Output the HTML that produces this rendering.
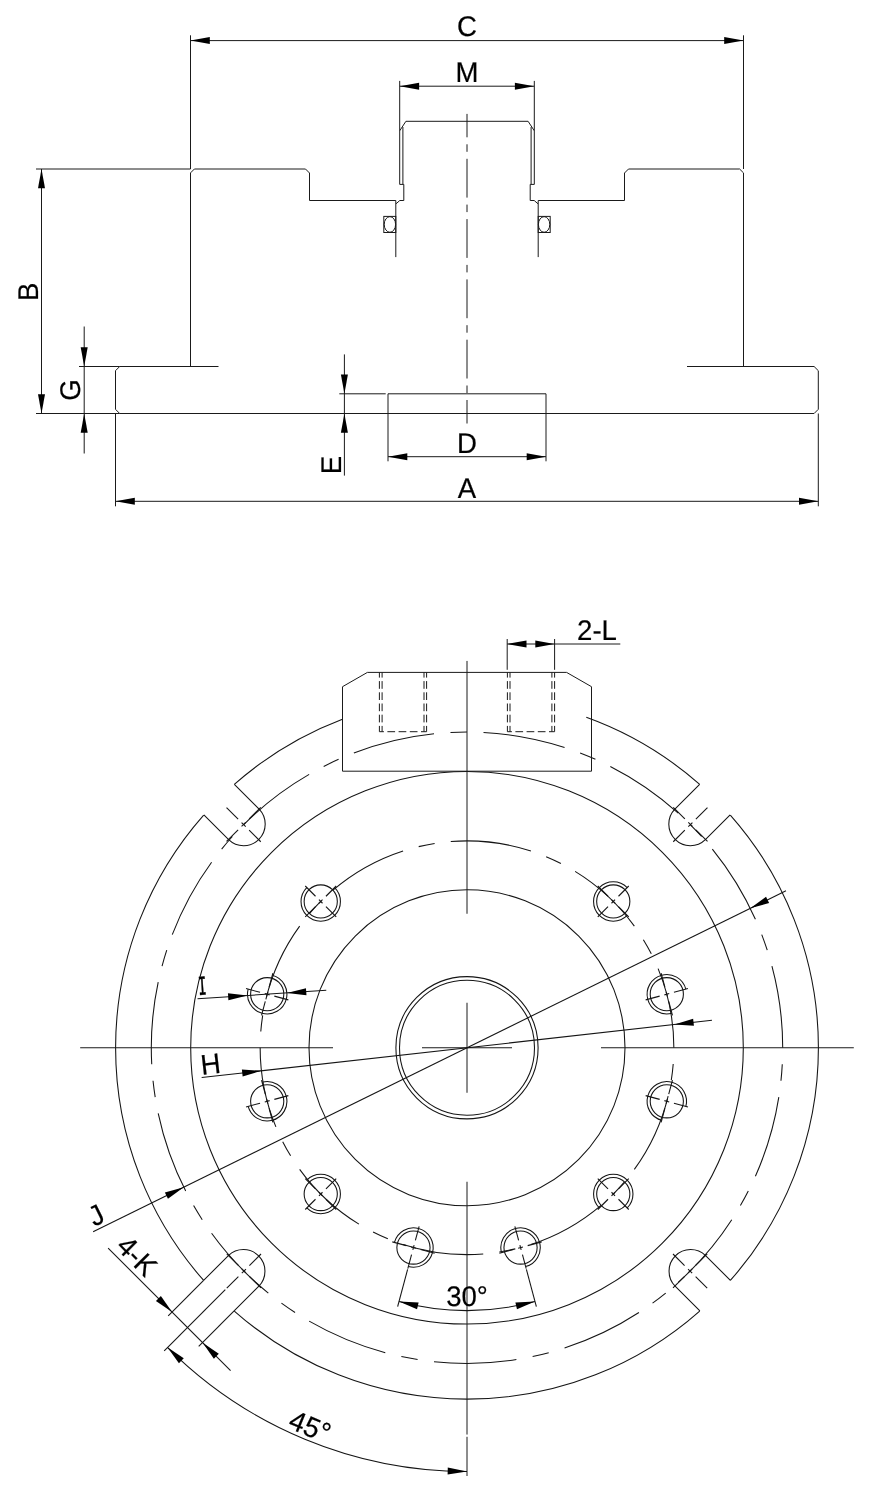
<!DOCTYPE html>
<html lang="en">
<head>
<meta charset="utf-8">
<title>Dimension drawing</title>
<style>
html,body{margin:0;padding:0;background:#fff;}
body{width:870px;height:1500px;overflow:hidden;}
svg{display:block;will-change:transform;text-rendering:geometricPrecision;}
svg line,svg polyline,svg path,svg circle,svg rect,svg ellipse,svg polygon{fill:none;stroke:#1a1a1a;stroke-width:1;}
svg path,svg circle,svg line.o{stroke:#151515;stroke-width:1.07;}
svg polygon.ah{fill:#000;stroke:none;}
svg text{font-family:"Liberation Sans",sans-serif;font-size:27.6px;fill:#000;stroke:#000;stroke-width:0.2px;}
svg text.ti{font-family:"DejaVu Sans Mono","Liberation Mono",monospace;font-size:24.6px;stroke:#000;stroke-width:0.6px;}
</style>
</head>
<body>
<svg width="870" height="1500" viewBox="0 0 870 1500" role="img" aria-label="Dimension drawing: side elevation and plan view">
<g id="elevation">
<line x1="190.5" y1="35.3" x2="190.5" y2="169"/>
<polyline points="190.5,366.5 190.5,172.9 194.4,169"/>
<line x1="743.5" y1="35.3" x2="743.5" y2="169"/>
<polyline points="743.5,366.5 743.5,172.9 739.6,169"/>
<polyline points="194.4,169 305.5,169 309.5,173 309.5,200.5 395.8,200.5 395.8,257.1"/>
<polyline points="739.6,169 628.5,169 624.5,173 624.5,200.5 538.2,200.5 538.2,257.1"/>
<polyline points="395.9,203.9 399.8,200.5 403.8,200.5 403.8,184.4 399.7,184.4 399.7,130.8 405.9,121.3 528.1,121.3 534.3,130.8 534.3,184.4 530.2,184.4 530.2,200.5 534.2,200.5 538.1,203.9"/>
<line x1="402.9" y1="127" x2="402.9" y2="184.4"/>
<rect x="383.8" y="216.4" width="12" height="16.1"/>
<ellipse cx="389.9" cy="224.45" rx="5.7" ry="7.8" stroke-width="1.2"/>
<line x1="399.7" y1="80.9" x2="399.7" y2="130.8"/>
<line x1="531.1" y1="127" x2="531.1" y2="184.4"/>
<rect x="538.2" y="216.4" width="12" height="16.1"/>
<ellipse cx="544.1" cy="224.45" rx="5.7" ry="7.8" stroke-width="1.2"/>
<line x1="534.3" y1="80.9" x2="534.3" y2="130.8"/>
<polyline points="218.5,366.5 119.7,366.5 115.5,370.7 115.5,409.3 119.7,413.5 814.1,413.5 818.3,409.3 818.3,370.7 814.1,366.5 687,366.5"/>
<polyline points="388,461.3 388,393.8 546,393.8 546,461.3"/>
<line x1="467" y1="113.9" x2="467" y2="137.3"/>
<line x1="467" y1="144.3" x2="467" y2="151.8"/>
<line x1="467" y1="158.8" x2="467" y2="197.6"/>
<line x1="467" y1="204.6" x2="467" y2="212.1"/>
<line x1="467" y1="219.1" x2="467" y2="257.9"/>
<line x1="467" y1="264.9" x2="467" y2="272.4"/>
<line x1="467" y1="279.4" x2="467" y2="318.2"/>
<line x1="467" y1="325.2" x2="467" y2="332.7"/>
<line x1="467" y1="339.7" x2="467" y2="378.5"/>
<line x1="467" y1="385.5" x2="467" y2="393"/>
<line x1="467" y1="400" x2="467" y2="423.5"/>
<line x1="190.5" y1="40.6" x2="743.5" y2="40.6"/>
<polygon class="ah" points="190.5,40.6 209.8,37.1 209.8,44.1"/>
<polygon class="ah" points="743.5,40.6 724.2,44.1 724.2,37.1"/>
<text class="t" text-anchor="middle" transform="translate(467 36.3) scale(1 1.030)">C</text>
<line x1="399.8" y1="86.2" x2="534.2" y2="86.2"/>
<polygon class="ah" points="399.8,86.2 419.1,82.7 419.1,89.7"/>
<polygon class="ah" points="534.2,86.2 514.9,89.7 514.9,82.7"/>
<text class="t" text-anchor="middle" transform="translate(467 82.4) scale(1 1.030)">M</text>
<line x1="36" y1="169" x2="190.5" y2="169"/>
<line x1="36" y1="413.5" x2="119.7" y2="413.5"/>
<line x1="41.5" y1="169" x2="41.5" y2="413.5"/>
<polygon class="ah" points="41.5,169 45,188.3 38,188.3"/>
<polygon class="ah" points="41.5,413.5 38,394.2 45,394.2"/>
<text class="t" text-anchor="middle" transform="translate(38 291.8) rotate(-90) scale(1 1.030)">B</text>
<line x1="79" y1="366.5" x2="119.7" y2="366.5"/>
<line x1="84.2" y1="326.5" x2="84.2" y2="453.5"/>
<polygon class="ah" points="84.2,366.5 80.7,347.2 87.7,347.2"/>
<polygon class="ah" points="84.2,413.5 87.7,432.8 80.7,432.8"/>
<text class="t" text-anchor="middle" transform="translate(80.4 390) rotate(-90) scale(1 1.030)">G</text>
<line x1="339.3" y1="393.8" x2="385.7" y2="393.8"/>
<line x1="344.4" y1="354.4" x2="344.4" y2="475.6"/>
<polygon class="ah" points="344.4,393.8 340.9,374.5 347.9,374.5"/>
<polygon class="ah" points="344.4,413.5 347.9,432.8 340.9,432.8"/>
<text class="t" text-anchor="middle" transform="translate(340.7 465.1) rotate(-90) scale(1 1.030)">E</text>
<line x1="388" y1="456.7" x2="546" y2="456.7"/>
<polygon class="ah" points="388,456.7 407.3,453.2 407.3,460.2"/>
<polygon class="ah" points="546,456.7 526.7,460.2 526.7,453.2"/>
<text class="t" text-anchor="middle" transform="translate(467 452.5) scale(1 1.030)">D</text>
<line x1="115.5" y1="413.5" x2="115.5" y2="506.3"/>
<line x1="818.3" y1="413.5" x2="818.3" y2="506.3"/>
<line x1="115.5" y1="501.3" x2="818.3" y2="501.3"/>
<polygon class="ah" points="115.5,501.3 134.8,497.8 134.8,504.8"/>
<polygon class="ah" points="818.3,501.3 799,504.8 799,497.8"/>
<text class="t" text-anchor="middle" transform="translate(467 497.5) scale(1 1.030)">A</text>
</g>
<g id="plan">
<circle cx="467" cy="1047.75" r="71.1"/>
<circle cx="467" cy="1047.75" r="67.5"/>
<circle cx="467" cy="1047.75" r="158"/>
<circle cx="467" cy="1047.75" r="276.3"/>
<path d="M699.7 784.44 A351.4 351.4 0 0 0 586.3 717.22"/>
<path d="M342.4 719.18 A351.4 351.4 0 0 0 234.3 784.44"/>
<path d="M203.69 815.05 A351.4 351.4 0 0 0 203.69 1280.45"/>
<path d="M234.3 1311.06 A351.4 351.4 0 0 0 699.7 1311.06"/>
<path d="M730.31 1280.45 A351.4 351.4 0 0 0 730.31 815.05"/>
<path d="M782.7 1047.75 A315.7 315.7 0 0 0 771.94 966.04"/>
<path d="M767.25 950.19 A315.7 315.7 0 0 0 761.73 934.61"/>
<path d="M755.41 919.34 A315.7 315.7 0 0 0 712.34 849.07"/>
<path d="M701.61 836.51 A315.7 315.7 0 0 0 690.23 824.52"/>
<path d="M678.24 813.14 A315.7 315.7 0 0 0 610.32 766.46"/>
<path d="M595.41 759.34 A315.7 315.7 0 0 0 580.14 753.02"/>
<path d="M564.56 747.5 A315.7 315.7 0 0 0 483.52 732.48"/>
<path d="M467 732.05 A315.7 315.7 0 0 0 450.48 732.48"/>
<path d="M434 733.78 A315.7 315.7 0 0 0 353.86 753.02"/>
<path d="M338.59 759.34 A315.7 315.7 0 0 0 323.68 766.46"/>
<path d="M309.15 774.35 A315.7 315.7 0 0 0 243.77 824.52"/>
<path d="M232.39 836.51 A315.7 315.7 0 0 0 221.66 849.07"/>
<path d="M211.59 862.19 A315.7 315.7 0 0 0 172.27 934.61"/>
<path d="M166.75 950.19 A315.7 315.7 0 0 0 162.06 966.04"/>
<path d="M158.2 982.11 A315.7 315.7 0 0 0 151.73 1064.27"/>
<path d="M153.03 1080.75 A315.7 315.7 0 0 0 155.19 1097.14"/>
<path d="M158.2 1113.39 A315.7 315.7 0 0 0 185.71 1191.07"/>
<path d="M193.6 1205.6 A315.7 315.7 0 0 0 202.23 1219.69"/>
<path d="M211.59 1233.31 A315.7 315.7 0 0 0 268.32 1293.09"/>
<path d="M281.44 1303.16 A315.7 315.7 0 0 0 295.06 1312.52"/>
<path d="M309.15 1321.15 A315.7 315.7 0 0 0 385.29 1352.69"/>
<path d="M401.36 1356.55 A315.7 315.7 0 0 0 417.61 1359.56"/>
<path d="M434 1361.72 A315.7 315.7 0 0 0 516.39 1359.56"/>
<path d="M532.64 1356.55 A315.7 315.7 0 0 0 548.71 1352.69"/>
<path d="M564.56 1348 A315.7 315.7 0 0 0 638.94 1312.52"/>
<path d="M652.56 1303.16 A315.7 315.7 0 0 0 665.68 1293.09"/>
<path d="M678.24 1282.36 A315.7 315.7 0 0 0 731.77 1219.69"/>
<path d="M740.4 1205.6 A315.7 315.7 0 0 0 748.29 1191.07"/>
<path d="M755.41 1176.16 A315.7 315.7 0 0 0 778.81 1097.14"/>
<path d="M780.97 1080.75 A315.7 315.7 0 0 0 782.27 1064.27"/>
<path d="M673.85 1047.75 A206.85 206.85 0 0 0 658.1 968.59"/>
<path d="M651.3 953.84 A206.85 206.85 0 0 0 643.37 939.67"/>
<path d="M634.35 926.17 A206.85 206.85 0 0 0 575.08 871.38"/>
<path d="M560.91 863.45 A206.85 206.85 0 0 0 546.16 856.65"/>
<path d="M530.92 851.02 A206.85 206.85 0 0 0 450.77 841.54"/>
<path d="M434.64 843.45 A206.85 206.85 0 0 0 418.71 846.62"/>
<path d="M403.08 851.02 A206.85 206.85 0 0 0 332.66 890.46"/>
<path d="M320.73 901.48 A206.85 206.85 0 0 0 309.71 913.41"/>
<path d="M299.65 926.17 A206.85 206.85 0 0 0 265.87 999.46"/>
<path d="M262.7 1015.39 A206.85 206.85 0 0 0 260.79 1031.52"/>
<path d="M260.15 1047.75 A206.85 206.85 0 0 0 275.9 1126.91"/>
<path d="M282.7 1141.66 A206.85 206.85 0 0 0 290.63 1155.83"/>
<path d="M299.65 1169.33 A206.85 206.85 0 0 0 358.92 1224.12"/>
<path d="M373.09 1232.05 A206.85 206.85 0 0 0 387.84 1238.85"/>
<path d="M403.08 1244.48 A206.85 206.85 0 0 0 483.23 1253.96"/>
<path d="M499.36 1252.05 A206.85 206.85 0 0 0 515.29 1248.88"/>
<path d="M530.92 1244.48 A206.85 206.85 0 0 0 601.34 1205.04"/>
<path d="M613.27 1194.02 A206.85 206.85 0 0 0 624.29 1182.09"/>
<path d="M634.35 1169.33 A206.85 206.85 0 0 0 668.13 1096.04"/>
<path d="M671.3 1080.11 A206.85 206.85 0 0 0 673.21 1063.98"/>
<line x1="333" y1="1047.75" x2="80.2" y2="1047.75"/>
<line x1="467" y1="913.75" x2="467" y2="660.95"/>
<line x1="601" y1="1047.75" x2="853.8" y2="1047.75"/>
<line x1="467" y1="1181.75" x2="467" y2="1434.55"/>
<line x1="422" y1="1047.75" x2="512" y2="1047.75"/>
<line x1="467" y1="1002.75" x2="467" y2="1092.75"/>
<line x1="467" y1="1436.8" x2="467" y2="1476"/>
<path d="M730.13 814.87 L705.36 839.64 A21.57 21.57 0 0 1 674.86 809.14 L699.63 784.37"/>
<line class="o" x1="673.25" y1="841.75" x2="684.84" y2="830.16"/>
<line class="o" x1="688.31" y1="826.69" x2="692.41" y2="822.59"/>
<line class="o" x1="695.87" y1="819.13" x2="707.47" y2="807.53"/>
<line class="o" x1="707.49" y1="841.49" x2="695.89" y2="829.89"/>
<line class="o" x1="692.43" y1="826.43" x2="688.32" y2="822.32"/>
<line class="o" x1="684.86" y1="818.86" x2="673.26" y2="807.26"/>
<path d="M234.37 784.37 L259.14 809.14 A21.57 21.57 0 0 1 228.64 839.64 L203.87 814.87"/>
<line class="o" x1="260.75" y1="841.75" x2="249.16" y2="830.16"/>
<line class="o" x1="245.69" y1="826.69" x2="241.59" y2="822.59"/>
<line class="o" x1="238.13" y1="819.13" x2="226.53" y2="807.53"/>
<line class="o" x1="260.74" y1="807.26" x2="249.14" y2="818.86"/>
<line class="o" x1="245.68" y1="822.32" x2="241.57" y2="826.43"/>
<line class="o" x1="238.11" y1="829.89" x2="226.51" y2="841.49"/>
<path d="M203.62 1280.38 L228.39 1255.61 A21.57 21.57 0 0 1 258.89 1286.11 L234.12 1310.88"/>
<line class="o" x1="261" y1="1254" x2="249.41" y2="1265.59"/>
<line class="o" x1="245.94" y1="1269.06" x2="241.84" y2="1273.16"/>
<line class="o" x1="238.38" y1="1276.62" x2="226.78" y2="1288.22"/>
<line class="o" x1="226.76" y1="1253.76" x2="238.36" y2="1265.36"/>
<line class="o" x1="241.82" y1="1268.82" x2="245.93" y2="1272.93"/>
<line class="o" x1="249.39" y1="1276.39" x2="260.99" y2="1287.99"/>
<path d="M699.88 1310.88 L675.11 1286.11 A21.57 21.57 0 0 1 705.61 1255.61 L730.38 1280.38"/>
<line class="o" x1="673" y1="1254" x2="684.59" y2="1265.59"/>
<line class="o" x1="688.06" y1="1269.06" x2="692.16" y2="1273.16"/>
<line class="o" x1="695.62" y1="1276.62" x2="707.22" y2="1288.22"/>
<line class="o" x1="673.01" y1="1287.99" x2="684.61" y2="1276.39"/>
<line class="o" x1="688.07" y1="1272.93" x2="692.18" y2="1268.82"/>
<line class="o" x1="695.64" y1="1265.36" x2="707.24" y2="1253.76"/>
<circle cx="666.8" cy="994.21" r="16.6"/>
<path d="M685.83 989.11 A19.7 19.7 0 1 0 671.9 1013.24"/>
<line class="o" x1="645.65" y1="999.88" x2="659.65" y2="996.13"/>
<line class="o" x1="664.39" y1="994.86" x2="669.22" y2="993.57"/>
<line class="o" x1="673.95" y1="992.3" x2="687.96" y2="988.55"/>
<line class="o" x1="672.47" y1="1015.37" x2="668.72" y2="1001.36"/>
<line class="o" x1="667.45" y1="996.63" x2="666.15" y2="991.8"/>
<line class="o" x1="664.89" y1="987.07" x2="661.13" y2="973.06"/>
<circle cx="613.27" cy="901.48" r="16.6"/>
<path d="M627.2 887.55 A19.7 19.7 0 1 0 627.2 915.41"/>
<line class="o" x1="597.78" y1="916.97" x2="608.03" y2="906.72"/>
<line class="o" x1="611.5" y1="903.25" x2="615.03" y2="899.72"/>
<line class="o" x1="618.5" y1="896.25" x2="628.75" y2="886"/>
<line class="o" x1="628.75" y1="916.97" x2="618.5" y2="906.72"/>
<line class="o" x1="615.03" y1="903.25" x2="611.5" y2="899.72"/>
<line class="o" x1="608.03" y1="896.25" x2="597.78" y2="886"/>
<circle cx="320.73" cy="901.48" r="16.6"/>
<path d="M306.8 887.55 A19.7 19.7 0 1 0 334.66 887.55"/>
<line class="o" x1="336.22" y1="916.97" x2="325.97" y2="906.72"/>
<line class="o" x1="322.5" y1="903.25" x2="318.97" y2="899.72"/>
<line class="o" x1="315.5" y1="896.25" x2="305.25" y2="886"/>
<line class="o" x1="336.22" y1="886" x2="325.97" y2="896.25"/>
<line class="o" x1="322.5" y1="899.72" x2="318.97" y2="903.25"/>
<line class="o" x1="315.5" y1="906.72" x2="305.25" y2="916.97"/>
<circle cx="267.2" cy="994.21" r="16.6"/>
<path d="M248.17 989.11 A19.7 19.7 0 1 0 272.3 975.18"/>
<line class="o" x1="288.35" y1="999.88" x2="274.35" y2="996.13"/>
<line class="o" x1="269.61" y1="994.86" x2="264.78" y2="993.57"/>
<line class="o" x1="260.05" y1="992.3" x2="246.04" y2="988.55"/>
<line class="o" x1="272.87" y1="973.06" x2="269.11" y2="987.07"/>
<line class="o" x1="267.85" y1="991.8" x2="266.55" y2="996.63"/>
<line class="o" x1="265.28" y1="1001.36" x2="261.53" y2="1015.37"/>
<circle cx="267.2" cy="1101.29" r="16.6"/>
<path d="M248.17 1106.39 A19.7 19.7 0 1 0 262.1 1082.26"/>
<line class="o" x1="288.35" y1="1095.62" x2="274.35" y2="1099.37"/>
<line class="o" x1="269.61" y1="1100.64" x2="264.78" y2="1101.93"/>
<line class="o" x1="260.05" y1="1103.2" x2="246.04" y2="1106.95"/>
<line class="o" x1="261.53" y1="1080.13" x2="265.28" y2="1094.14"/>
<line class="o" x1="266.55" y1="1098.87" x2="267.85" y2="1103.7"/>
<line class="o" x1="269.11" y1="1108.43" x2="272.87" y2="1122.44"/>
<circle cx="320.73" cy="1194.02" r="16.6"/>
<path d="M306.8 1207.95 A19.7 19.7 0 1 0 306.8 1180.09"/>
<line class="o" x1="336.22" y1="1178.53" x2="325.97" y2="1188.78"/>
<line class="o" x1="322.5" y1="1192.25" x2="318.97" y2="1195.78"/>
<line class="o" x1="315.5" y1="1199.25" x2="305.25" y2="1209.5"/>
<line class="o" x1="305.25" y1="1178.53" x2="315.5" y2="1188.78"/>
<line class="o" x1="318.97" y1="1192.25" x2="322.5" y2="1195.78"/>
<line class="o" x1="325.97" y1="1199.25" x2="336.22" y2="1209.5"/>
<circle cx="413.46" cy="1247.55" r="16.6"/>
<path d="M408.36 1266.58 A19.7 19.7 0 1 0 394.43 1242.45"/>
<line class="o" x1="419.13" y1="1226.4" x2="415.38" y2="1240.4"/>
<line class="o" x1="414.11" y1="1245.14" x2="412.82" y2="1249.97"/>
<line class="o" x1="411.55" y1="1254.7" x2="407.8" y2="1268.71"/>
<line class="o" x1="392.31" y1="1241.88" x2="406.32" y2="1245.64"/>
<line class="o" x1="411.05" y1="1246.9" x2="415.88" y2="1248.2"/>
<line class="o" x1="420.61" y1="1249.47" x2="434.62" y2="1253.22"/>
<circle cx="520.54" cy="1247.55" r="16.6"/>
<path d="M525.64 1266.58 A19.7 19.7 0 1 0 501.51 1252.65"/>
<line class="o" x1="514.87" y1="1226.4" x2="518.62" y2="1240.4"/>
<line class="o" x1="519.89" y1="1245.14" x2="521.18" y2="1249.97"/>
<line class="o" x1="522.45" y1="1254.7" x2="526.2" y2="1268.71"/>
<line class="o" x1="499.38" y1="1253.22" x2="513.39" y2="1249.47"/>
<line class="o" x1="518.12" y1="1248.2" x2="522.95" y2="1246.9"/>
<line class="o" x1="527.68" y1="1245.64" x2="541.69" y2="1241.88"/>
<circle cx="613.27" cy="1194.02" r="16.6"/>
<path d="M627.2 1207.95 A19.7 19.7 0 1 0 599.34 1207.95"/>
<line class="o" x1="597.78" y1="1178.53" x2="608.03" y2="1188.78"/>
<line class="o" x1="611.5" y1="1192.25" x2="615.03" y2="1195.78"/>
<line class="o" x1="618.5" y1="1199.25" x2="628.75" y2="1209.5"/>
<line class="o" x1="597.78" y1="1209.5" x2="608.03" y2="1199.25"/>
<line class="o" x1="611.5" y1="1195.78" x2="615.03" y2="1192.25"/>
<line class="o" x1="618.5" y1="1188.78" x2="628.75" y2="1178.53"/>
<circle cx="666.8" cy="1101.29" r="16.6"/>
<path d="M685.83 1106.39 A19.7 19.7 0 1 0 661.7 1120.32"/>
<line class="o" x1="645.65" y1="1095.62" x2="659.65" y2="1099.37"/>
<line class="o" x1="664.39" y1="1100.64" x2="669.22" y2="1101.93"/>
<line class="o" x1="673.95" y1="1103.2" x2="687.96" y2="1106.95"/>
<line class="o" x1="661.13" y1="1122.44" x2="664.89" y2="1108.43"/>
<line class="o" x1="666.15" y1="1103.7" x2="667.45" y2="1098.87"/>
<line class="o" x1="668.72" y1="1094.14" x2="672.47" y2="1080.13"/>
<polygon points="367.4,672.4 566.6,672.4 591.5,686.7 591.5,771.2 342.5,771.2 342.5,686.7"/>
<line x1="379.4" y1="672.4" x2="379.4" y2="731.7" stroke-dasharray="7.7 3.5" stroke-dashoffset="2.5"/>
<line x1="554.6" y1="672.4" x2="554.6" y2="731.7" stroke-dasharray="7.7 3.5" stroke-dashoffset="2.5"/>
<line x1="382.1" y1="672.4" x2="382.1" y2="731.7" stroke-dasharray="7.7 3.5" stroke-dashoffset="2.5"/>
<line x1="551.9" y1="672.4" x2="551.9" y2="731.7" stroke-dasharray="7.7 3.5" stroke-dashoffset="2.5"/>
<line x1="424" y1="672.4" x2="424" y2="731.7" stroke-dasharray="7.7 3.5" stroke-dashoffset="2.5"/>
<line x1="510" y1="672.4" x2="510" y2="731.7" stroke-dasharray="7.7 3.5" stroke-dashoffset="2.5"/>
<line x1="426.6" y1="672.4" x2="426.6" y2="731.7" stroke-dasharray="7.7 3.5" stroke-dashoffset="2.5"/>
<line x1="507.4" y1="672.4" x2="507.4" y2="731.7" stroke-dasharray="7.7 3.5" stroke-dashoffset="2.5"/>
<line x1="379.4" y1="731.7" x2="426.6" y2="731.7" stroke-dasharray="7.7 3.5" stroke-dashoffset="3.2"/>
<line x1="507.4" y1="731.7" x2="554.6" y2="731.7" stroke-dasharray="7.7 3.5" stroke-dashoffset="3.2"/>
<line x1="507.2" y1="639" x2="507.2" y2="669.8"/>
<line x1="554.6" y1="639" x2="554.6" y2="669.8"/>
<line x1="507.2" y1="644" x2="620.3" y2="644"/>
<polygon class="ah" points="507.2,644 526.5,640.5 526.5,647.5"/>
<polygon class="ah" points="554.6,644 535.3,647.5 535.3,640.5"/>
<text class="t" text-anchor="middle" transform="translate(597 639.6) scale(1 1.030)">2-L</text>
<line class="o" x1="93.11" y1="1231.73" x2="785.98" y2="890.79"/>
<polygon class="ah" points="183.74,1187.13 167.96,1198.79 164.87,1192.51"/>
<polygon class="ah" points="750.26,908.37 766.04,896.71 769.13,902.99"/>
<text class="t" text-anchor="middle" transform="translate(100.52 1223.87) rotate(-26.2) scale(1 1.030)">J</text>
<line class="o" x1="201.66" y1="1077.51" x2="711.96" y2="1020.27"/>
<polygon class="ah" points="261.44,1070.81 242.65,1076.44 241.87,1069.48"/>
<polygon class="ah" points="674.35,1024.49 693.14,1018.86 693.92,1025.82"/>
<text class="t" text-anchor="middle" transform="translate(211.71 1073.91) rotate(-6.4) scale(1 1.030)">H</text>
<line class="o" x1="197.55" y1="998.81" x2="326.27" y2="990.31"/>
<polygon class="ah" points="247.44,995.52 228.41,1000.28 227.95,993.3"/>
<polygon class="ah" points="286.96,992.91 305.98,988.14 306.44,995.13"/>
<text class="ti" text-anchor="middle" transform="translate(203 994.8) rotate(-3.78) scale(0.56 1.000)">I</text>
<line class="o" x1="203.62" y1="1280.38" x2="168.22" y2="1315.78"/>
<line class="o" x1="234.12" y1="1310.88" x2="198.72" y2="1346.28"/>
<line class="o" x1="108.11" y1="1248.11" x2="230.58" y2="1370.58"/>
<polygon class="ah" points="172.07,1312.07 155.94,1300.89 160.89,1295.94"/>
<polygon class="ah" points="202.68,1342.68 218.81,1353.86 213.86,1358.81"/>
<text class="t" text-anchor="middle" transform="translate(130.1 1263.03) rotate(45) scale(1 1.030)">4-K</text>
<line class="o" x1="225.29" y1="1289.71" x2="164.2" y2="1350.8"/>
<path d="M167.4 1347.35 A423.7 423.7 0 0 0 467 1471.45"/>
<polygon class="ah" points="167.4,1347.35 183.77,1358.15 178.94,1363.21"/>
<polygon class="ah" points="467,1471.45 447.63,1474.51 447.78,1467.51"/>
<text class="t" text-anchor="middle" transform="translate(306.39 1435.5) rotate(22.5) scale(1 1.030)">45°</text>
<path d="M399.01 1301.5 A262.7 262.7 0 0 0 534.99 1301.5"/>
<polygon class="ah" points="399.01,1301.5 418.6,1302.39 417.04,1309.22"/>
<polygon class="ah" points="534.99,1301.5 516.96,1309.22 515.4,1302.39"/>
<line class="o" x1="407.6" y1="1269.43" x2="397.64" y2="1306.62"/>
<line class="o" x1="526.4" y1="1269.43" x2="536.36" y2="1306.62"/>
<text class="t" text-anchor="middle" transform="translate(467 1305.8) scale(1 1.030)">30°</text>
</g>
</svg>
</body>
</html>
